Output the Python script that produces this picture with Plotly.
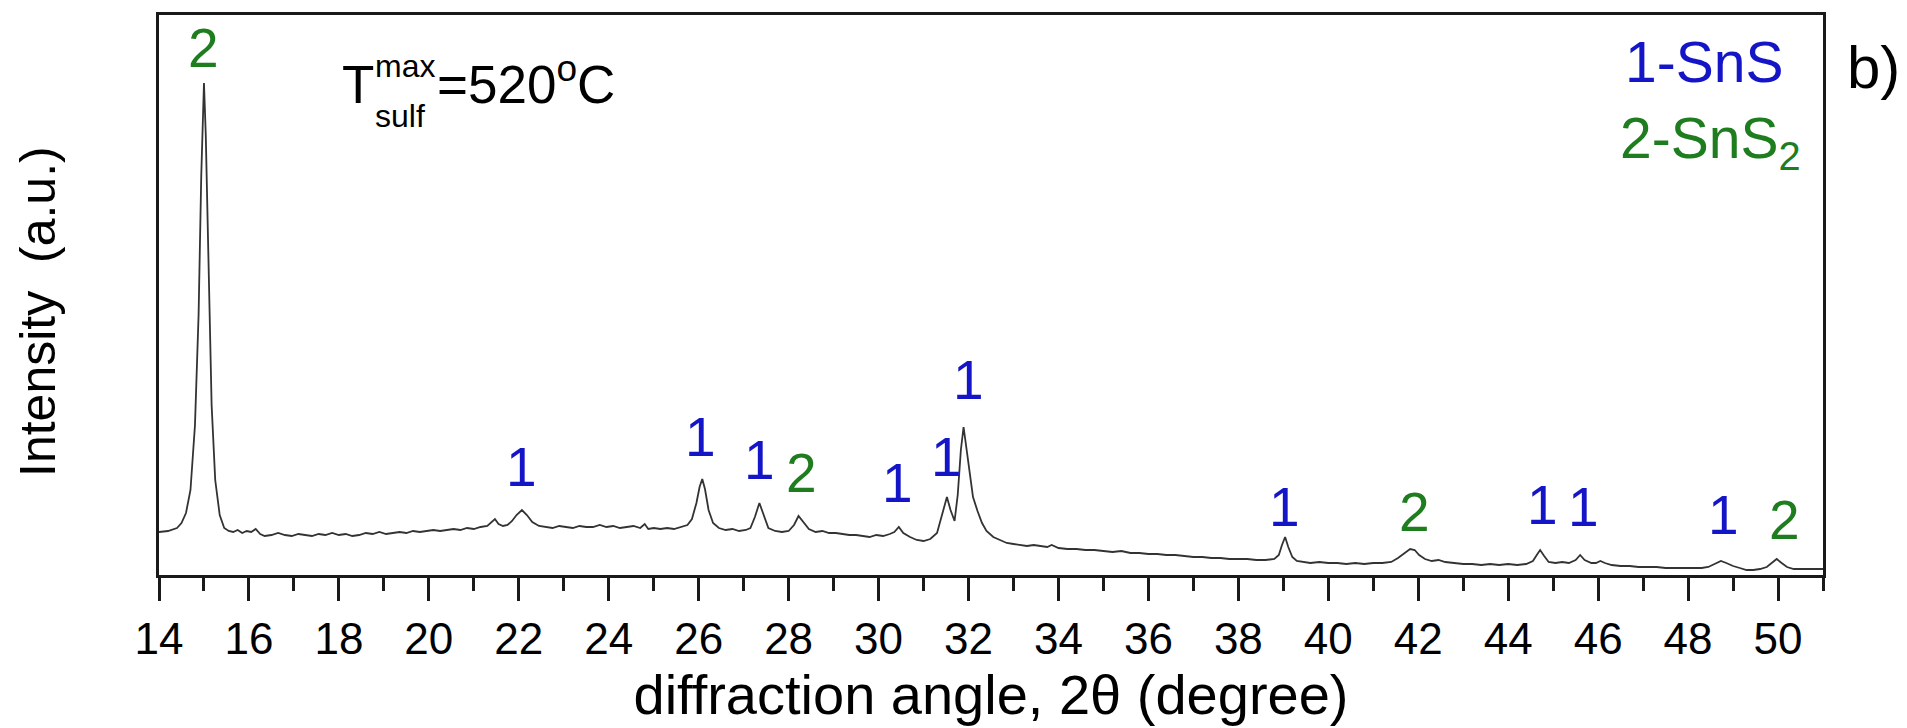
import plotly.graph_objects as go

# ---------------- data ----------------
two_theta = [
    14.0, 14.2, 14.4, 14.5, 14.6, 14.7, 14.8, 14.88, 14.94, 15.0, 15.04, 15.1, 15.17, 15.25, 15.35,
    15.45, 15.55, 15.65, 15.75, 15.85, 15.95, 16.05, 16.15, 16.25, 16.35, 16.5, 16.65, 16.8, 16.95,
    17.1, 17.25, 17.4, 17.55, 17.7, 17.85, 18.0, 18.15, 18.3, 18.45, 18.6, 18.75, 18.9, 19.05, 19.2,
    19.35, 19.5, 19.65, 19.8, 19.95, 20.1, 20.25, 20.4, 20.55, 20.7, 20.85, 21.0, 21.15, 21.3, 21.4,
    21.47, 21.55, 21.65, 21.75, 21.85, 21.95, 22.07, 22.18, 22.3, 22.45, 22.6, 22.75, 22.9, 23.05,
    23.2, 23.35, 23.5, 23.65, 23.8, 23.95, 24.1, 24.25, 24.4, 24.55, 24.7, 24.8, 24.88, 25.0, 25.15,
    25.3, 25.45, 25.6, 25.75, 25.85, 25.95, 26.02, 26.08, 26.14, 26.22, 26.32, 26.45, 26.6, 26.75,
    26.9, 27.05, 27.15, 27.25, 27.35, 27.45, 27.55, 27.7, 27.85, 28.0, 28.12, 28.22, 28.32, 28.45,
    28.6, 28.75, 28.9, 29.05, 29.2, 29.35, 29.5, 29.65, 29.8, 29.95, 30.1, 30.25, 30.35, 30.45, 30.55,
    30.7, 30.85, 31.0, 31.15, 31.3, 31.42, 31.52, 31.6, 31.69, 31.76, 31.83, 31.89, 31.95, 32.02,
    32.1, 32.2, 32.3, 32.4, 32.55, 32.7, 32.85, 33.0, 33.15, 33.3, 33.45, 33.6, 33.75, 33.85, 34.0,
    34.2, 34.4, 34.6, 34.8, 35.0, 35.2, 35.4, 35.6, 35.8, 36.0, 36.2, 36.4, 36.6, 36.8, 37.0, 37.2,
    37.4, 37.6, 37.8, 38.0, 38.2, 38.4, 38.6, 38.8, 38.9, 38.97, 39.04, 39.11, 39.2, 39.3, 39.45,
    39.6, 39.8, 40.0, 40.2, 40.4, 40.6, 40.8, 41.0, 41.2, 41.4, 41.55, 41.7, 41.82, 41.92, 42.02,
    42.15, 42.3, 42.45, 42.6, 42.8, 43.0, 43.2, 43.4, 43.6, 43.8, 44.0, 44.2, 44.4, 44.55, 44.65,
    44.71, 44.8, 44.9, 45.05, 45.2, 45.35, 45.5, 45.6, 45.7, 45.85, 45.95, 46.05, 46.15, 46.3, 46.5,
    46.7, 46.9, 47.1, 47.3, 47.5, 47.7, 47.9, 48.1, 48.3, 48.45, 48.6, 48.73, 48.85, 49.0, 49.15,
    49.3, 49.45, 49.6, 49.75, 49.88, 49.97, 50.08, 50.2, 50.35, 50.5, 50.7, 50.85, 51.0,
]
intensity = [
    43, 44, 47, 52, 62, 85, 150, 260, 400, 492, 440, 300, 170, 95, 60,
    47, 44, 43, 45, 42, 44, 43, 46, 41, 39, 40, 42, 40, 39,
    41, 40, 39, 41, 40, 42, 40, 41, 39, 40, 42, 41, 43, 41, 42,
    43, 42, 44, 43, 44, 45, 44, 45, 46, 45, 47, 46, 48, 49, 53,
    56, 51, 49, 50, 54, 60, 65, 60, 53, 49, 48, 47, 49, 48,
    47, 49, 48, 48, 50, 48, 49, 47, 48, 49, 47, 51, 46, 47, 46,
    47, 46, 48, 50, 56, 72, 88, 96, 86, 65, 52, 47, 45, 46,
    44, 45, 47, 58, 72, 60, 47, 44, 43, 44, 50, 59, 53, 46,
    43, 44, 42, 42, 41, 40, 40, 39, 38, 40, 39, 41, 43, 48, 42,
    38, 35, 34, 36, 42, 62, 78, 65, 54, 80, 125, 148, 128, 100,
    78, 64, 52, 44, 38, 35, 32, 31, 30, 29, 30, 29, 28, 30, 27,
    26, 26, 25, 25, 24, 23, 24, 22, 22, 21, 21, 20, 20, 19, 18, 18,
    17, 17, 16, 16, 16, 15, 15, 16, 20, 30, 38, 28, 18, 14, 13,
    12, 13, 12, 12, 11, 12, 11, 12, 12, 13, 17, 22, 26, 25, 20,
    16, 14, 15, 13, 12, 11, 11, 10, 11, 10, 11, 10, 11, 14, 21,
    25, 19, 13, 12, 13, 12, 15, 20, 15, 12, 12, 14, 12, 10, 9,
    9, 8, 8, 8, 7, 7, 7, 7, 7, 8, 11, 14, 12, 9, 7,
    5, 5, 6, 8, 13, 16, 12, 8, 6, 6, 6, 6, 6,
]

# peak assignments: phase number, angle, label height (a.u.)
peak_phase = ["2", "1", "1", "1", "2", "1", "1", "1", "1", "2", "1", "1", "1", "2"]
peak_angle = [15.0, 22.05, 26.05, 27.36, 28.29, 30.42, 31.52, 31.99, 39.02, 41.92, 44.77, 45.68, 48.79, 50.14]
peak_label_level = [527, 108, 138, 115, 102, 92, 118, 195, 68, 63, 70, 68, 60, 55]

legend_lines = ["1-SnS", "2-SnS<sub>2</sub>"]
x_tick_values = list(range(14, 51, 2))
x_tick_labels = [str(v) for v in x_tick_values]
x_title = "diffraction angle, 2θ (degree)"
y_title = "Intensity  (a.u.)"

# ---------------- styling ----------------
FONT = "Liberation Sans, Arial, sans-serif"
PHASE_COLOR = {"1": "#1515c8", "2": "#1e7d1e"}
W, H = 1907, 728
L, R, T, B = 159, 1823, 15, 575


def px(xp):
    return (xp - L) / (R - L)


def py(yp):
    return (B - yp) / (B - T)


fig = go.Figure()
fig.add_trace(go.Scatter(
    x=two_theta, y=intensity, mode="lines",
    line=dict(color="#333333", width=1.8), showlegend=False, hoverinfo="x+y",
))

annotations = []
for ph, ang, lev in zip(peak_phase, peak_angle, peak_label_level):
    annotations.append(dict(
        x=ang, y=lev, xref="x", yref="y", text=ph, showarrow=False,
        font=dict(family=FONT, size=55, color=PHASE_COLOR[ph]),
        xanchor="center", yanchor="middle",
    ))

# legend text (top right)
annotations.append(dict(x=px(1785), y=py(62), xref="paper", yref="paper", text=legend_lines[0],
                        showarrow=False, xanchor="right", yanchor="middle",
                        font=dict(family=FONT, size=57, color=PHASE_COLOR["1"])))
annotations.append(dict(x=px(1803), y=py(142), xref="paper", yref="paper", text=legend_lines[1],
                        showarrow=False, xanchor="right", yanchor="middle",
                        font=dict(family=FONT, size=57, color=PHASE_COLOR["2"])))

# temperature annotation
annotations.append(dict(x=px(340), y=py(84), xref="paper", yref="paper", text="T",
                        showarrow=False, xanchor="left", yanchor="middle",
                        font=dict(family=FONT, size=53, color="black")))
annotations.append(dict(x=px(373), y=py(66), xref="paper", yref="paper", text="max",
                        showarrow=False, xanchor="left", yanchor="middle",
                        font=dict(family=FONT, size=32, color="black")))
annotations.append(dict(x=px(373), y=py(116), xref="paper", yref="paper", text="sulf",
                        showarrow=False, xanchor="left", yanchor="middle",
                        font=dict(family=FONT, size=32, color="black")))
annotations.append(dict(x=px(435), y=py(80), xref="paper", yref="paper", text="=520<sup>o</sup>C",
                        showarrow=False, xanchor="left", yanchor="middle",
                        font=dict(family=FONT, size=53, color="black")))

# panel letter
annotations.append(dict(x=px(1845), y=py(67), xref="paper", yref="paper", text="b)",
                        showarrow=False, xanchor="left", yanchor="middle",
                        font=dict(family=FONT, size=60, color="black")))

# y-axis title (placed as rotated text so it is centred like the reference)
annotations.append(dict(x=px(38), y=py(312), xref="paper", yref="paper", text=y_title,
                        showarrow=False, xanchor="center", yanchor="middle", textangle=-90,
                        font=dict(family=FONT, size=50, color="black")))

fig.update_layout(
    width=W, height=H,
    margin=dict(l=L, r=W - R, t=T, b=H - B, pad=0),
    paper_bgcolor="white", plot_bgcolor="white",
    font=dict(family=FONT, color="black"),
    annotations=annotations,
    showlegend=False,
)
fig.update_xaxes(
    range=[14, 51], tickmode="array", tickvals=x_tick_values, ticktext=x_tick_labels,
    ticks="outside", ticklen=23, tickwidth=3, tickcolor="#1a1a1a",
    minor=dict(dtick=1, tick0=15, ticks="outside", ticklen=13, tickwidth=3, tickcolor="#1a1a1a"),
    showline=True, linewidth=3, linecolor="#1a1a1a", mirror=True,
    showgrid=False, zeroline=False,
    tickfont=dict(family=FONT, size=44, color="black"),
    title=dict(text=x_title, font=dict(family=FONT, size=56, color="black"), standoff=10),
    automargin=False,
)
fig.update_yaxes(
    range=[0, 560], showticklabels=False, ticks="",
    showline=True, linewidth=3, linecolor="#1a1a1a", mirror=True,
    showgrid=False, zeroline=False,
    automargin=False,
)

fig.write_html("out.html")
